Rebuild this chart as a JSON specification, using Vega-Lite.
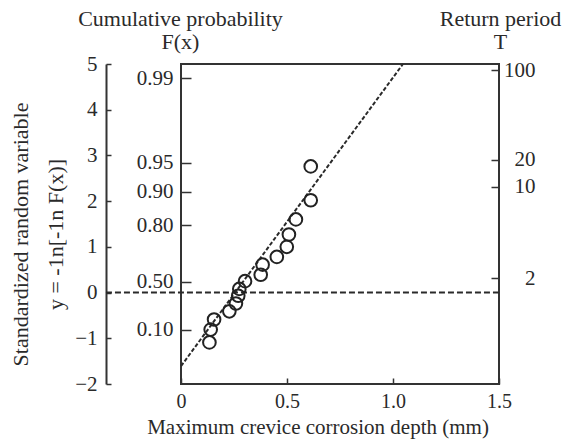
{
  "$schema": "https://vega.github.io/schema/vega-lite/v6.json",
  "width": 318,
  "height": 320,
  "autosize": {"type": "none"},
  "padding": {"left": 181, "top": 64, "right": 68, "bottom": 64},
  "background": "white",
  "datasets": {
    "pts": [
      {"depth": 0.612, "y": 2.76},
      {"depth": 0.612, "y": 2.02},
      {"depth": 0.542, "y": 1.60},
      {"depth": 0.509, "y": 1.27},
      {"depth": 0.499, "y": 1.00},
      {"depth": 0.452, "y": 0.78},
      {"depth": 0.385, "y": 0.61},
      {"depth": 0.376, "y": 0.39},
      {"depth": 0.302, "y": 0.25},
      {"depth": 0.275, "y": 0.08},
      {"depth": 0.270, "y": -0.07},
      {"depth": 0.259, "y": -0.24},
      {"depth": 0.228, "y": -0.41},
      {"depth": 0.156, "y": -0.59},
      {"depth": 0.140, "y": -0.81},
      {"depth": 0.134, "y": -1.09}
    ],
    "fit": [
      {"depth": 0.0, "y": -1.61},
      {"depth": 1.047, "y": 5.0}
    ],
    "zero": [
      {"depth": -0.354, "depth2": 1.5, "y": 0}
    ]
  },
  "resolve": {"scale": {"y": "independent"}, "axis": {"y": "independent"}},
  "layer": [
    {
      "data": {"name": "zero"},
      "mark": {"type": "rule", "stroke": "#2a2a2a", "strokeWidth": 2, "strokeDash": [6, 3]},
      "encoding": {
        "x": {
          "field": "depth", "type": "quantitative",
          "scale": {"domain": [0, 1.5], "nice": false, "zero": false},
          "axis": {
            "orient": "bottom",
            "values": [0, 0.5, 1.0, 1.5],
            "labelExpr": "datum.value == 0 ? '0' : format(datum.value, '.1f')",
            "domain": false,
            "ticks": true, "tickSize": -6, "tickWidth": 1.5, "tickColor": "#333",
            "labelFontSize": 20, "labelPadding": 13, "labelFlush": false, "labelOverlap": false, "labelBound": false,
            "grid": false,
            "title": "Maximum crevice corrosion depth (mm)", "titleFontSize": 21,
            "titleX": 136.5, "titleY": 49, "titleAlign": "center", "titleBaseline": "alphabetic", "titleAnchor": null
          }
        },
        "x2": {"field": "depth2"},
        "y": {
          "field": "y", "type": "quantitative",
          "scale": {"domain": [-2, 5], "nice": false, "zero": false},
          "axis": {
            "orient": "left", "offset": 75,
            "values": [-2, -1, 0, 1, 2, 3, 4, 5],
            "domain": true, "domainColor": "#333", "domainWidth": 2,
            "ticks": true, "tickSize": -5, "tickWidth": 1.5, "tickColor": "#333",
            "labelPadding": 14, "labelFlush": false, "labelOverlap": false, "labelBound": false,
            "grid": false,
            "title": ["Standardized random variable", "y = -1n[-1n F(x)]"],
            "titleAngle": -90, "titleX": -79, "titleY": 170,
            "titleAlign": "center", "titleBaseline": "alphabetic", "titleLineHeight": 35, "titleAnchor": null
          }
        }
      }
    },
    {
      "data": {"name": "fit"},
      "mark": {"type": "line", "stroke": "#2a2a2a", "strokeWidth": 2, "strokeDash": [4, 2]},
      "encoding": {
        "x": {
          "field": "depth", "type": "quantitative",
          "scale": {"domain": [0, 1.5], "nice": false, "zero": false},
          "axis": {
            "orient": "bottom",
            "values": [0, 0.5, 1.0, 1.5],
            "labelExpr": "datum.value == 0 ? '0' : format(datum.value, '.1f')",
            "domain": false,
            "ticks": true, "tickSize": -6, "tickWidth": 1.5, "tickColor": "#333",
            "labelFontSize": 20, "labelPadding": 13, "labelFlush": false, "labelOverlap": false, "labelBound": false,
            "grid": false,
            "title": "Maximum crevice corrosion depth (mm)", "titleFontSize": 21,
            "titleX": 136.5, "titleY": 49, "titleAlign": "center", "titleBaseline": "alphabetic", "titleAnchor": null
          }
        },
        "y": {
          "field": "y", "type": "quantitative",
          "scale": {"domain": [-2, 5], "nice": false, "zero": false},
          "axis": {
            "orient": "right", "offset": 0,
            "values": [4.86, 2.91, 2.32, 0.31],
            "labelExpr": "datum.value > 4 ? '100' : datum.value > 2.6 ? '20' : datum.value > 2 ? '10' : '2'",
            "domain": false,
            "ticks": true, "tickSize": -8, "tickWidth": 1.5, "tickColor": "#333",
            "labelAlign": "right", "labelPadding": 44, "labelFlush": false, "labelOverlap": false, "labelBound": false,
            "grid": false,
            "title": ["Return period", "T"],
            "titleAngle": 0, "titleX": 1, "titleY": -39,
            "titleAlign": "center", "titleBaseline": "alphabetic", "titleLineHeight": 23, "titleAnchor": null
          }
        }
      }
    },
    {
      "data": {"name": "pts"},
      "mark": {"type": "point", "shape": "circle", "filled": false, "stroke": "#222", "strokeWidth": 2, "size": 160, "opacity": 1},
      "encoding": {
        "x": {
          "field": "depth", "type": "quantitative",
          "scale": {"domain": [0, 1.5], "nice": false, "zero": false},
          "axis": {
            "orient": "bottom",
            "values": [0, 0.5, 1.0, 1.5],
            "labelExpr": "datum.value == 0 ? '0' : format(datum.value, '.1f')",
            "domain": false,
            "ticks": true, "tickSize": -6, "tickWidth": 1.5, "tickColor": "#333",
            "labelFontSize": 20, "labelPadding": 13, "labelFlush": false, "labelOverlap": false, "labelBound": false,
            "grid": false,
            "title": "Maximum crevice corrosion depth (mm)", "titleFontSize": 21,
            "titleX": 136.5, "titleY": 49, "titleAlign": "center", "titleBaseline": "alphabetic", "titleAnchor": null
          }
        },
        "y": {
          "field": "y", "type": "quantitative",
          "scale": {"domain": [-2, 5], "nice": false, "zero": false},
          "axis": {
            "orient": "left", "offset": 0,
            "values": [4.69, 2.84, 2.21, 1.47, 0.24, -0.81],
            "labelExpr": "datum.value > 4 ? '0.99' : datum.value > 2.5 ? '0.95' : datum.value > 2 ? '0.90' : datum.value > 1 ? '0.80' : datum.value > 0 ? '0.50' : '0.10'",
            "domain": false,
            "ticks": true, "tickSize": -10, "tickWidth": 1.5, "tickColor": "#333",
            "labelPadding": 18, "labelFlush": false, "labelOverlap": false, "labelBound": false,
            "grid": false,
            "title": ["Cumulative probability", "F(x)"],
            "titleAngle": 0, "titleX": -1, "titleY": -39,
            "titleAlign": "center", "titleBaseline": "alphabetic", "titleLineHeight": 23, "titleAnchor": null
          }
        }
      }
    }
  ],
  "config": {
    "view": {"stroke": "#333", "strokeWidth": 2},
    "font": "Liberation Serif",
    "axis": {
      "labelFont": "Liberation Serif", "labelFontSize": 21, "labelColor": "#2a2a2a",
      "titleFont": "Liberation Serif", "titleFontSize": 22, "titleFontWeight": "normal", "titleColor": "#2a2a2a"
    }
  }
}
